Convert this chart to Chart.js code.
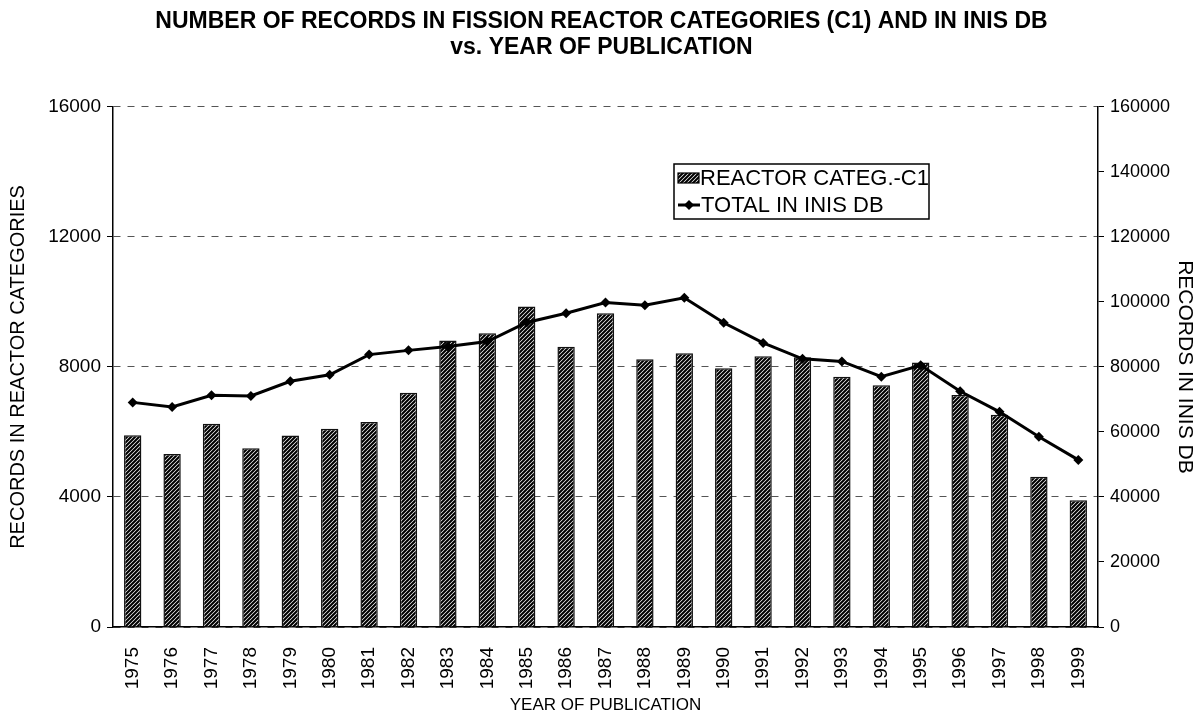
<!DOCTYPE html>
<html>
<head>
<meta charset="utf-8">
<script src="https://cdn.jsdelivr.net/npm/chart.js@4.4.0/dist/chart.umd.min.js"></script>
<style>
  html, body { margin: 0; padding: 0; background: #fff; }
  #wrap { width: 1203px; height: 718px; }
</style>
</head>
<body>
<div id="wrap"><canvas id="chart" width="1203" height="718"></canvas></div>
<script>
// data
const years = ["1975", "1976", "1977", "1978", "1979", "1980", "1981", "1982", "1983", "1984",
  "1985", "1986", "1987", "1988", "1989", "1990", "1991", "1992", "1993", "1994",
  "1995", "1996", "1997", "1998", "1999"]
const reactorC1 = [5900, 5320, 6250, 5500, 5890, 6100, 6310, 7210, 8810, 9040,
  9860, 8620, 9650, 8240, 8420, 7960, 8330, 8300, 7700, 7440,
  8140, 7140, 6530, 4620, 3900]
const totalInis = [69100, 67700, 71300, 71100, 75600, 77600, 83800, 85100, 86300, 87800,
  93700, 96500, 99800, 99000, 101300, 93600, 87400, 82500, 81700, 77000,
  80500, 72500, 66200, 58500, 51400]
const leftTicks = [0, 4000, 8000, 12000, 16000]
const rightTicks = [0, 20000, 40000, 60000, 80000, 100000, 120000, 140000, 160000]

const FONT = "'Liberation Sans', Arial, sans-serif"

// diagonal hatch fill like the old office chart
function makeHatch() {
    const c = document.createElement("canvas")
    c.width = 4
    c.height = 4
    const g = c.getContext("2d")
    g.fillStyle = "#fff"
    g.fillRect(0, 0, 4, 4)
    g.strokeStyle = "#000"
    g.lineWidth = 2.1
    g.beginPath()
    g.moveTo(-1, 5); g.lineTo(5, -1)
    g.moveTo(-1, 1); g.lineTo(1, -1)
    g.moveTo(3, 5); g.lineTo(5, 3)
    g.stroke()
    return g.createPattern(c, "repeat")
}
const hatch = makeHatch()

// legend box drawn inside the plot, like the original
const boxLegend = {
    id: "boxLegend",
    afterDatasetsDraw(chart) {
        const ctx = chart.ctx
        const barDs = chart.data.datasets.find((d) => d.type === "bar")
        const lineDs = chart.data.datasets.find((d) => d.type === "line")
        ctx.save()
        ctx.fillStyle = "#fff"
        ctx.fillRect(674, 164, 255, 55)
        ctx.strokeStyle = "#000"
        ctx.lineWidth = 1.5
        ctx.strokeRect(674, 164, 255, 55)

        // bar swatch
        ctx.fillStyle = hatch
        ctx.fillRect(678, 173, 21, 10)
        ctx.lineWidth = 1.2
        ctx.strokeRect(678, 173, 21, 10)

        // line swatch
        ctx.lineWidth = 3
        ctx.beginPath()
        ctx.moveTo(678, 205)
        ctx.lineTo(700, 205)
        ctx.stroke()
        ctx.fillStyle = "#000"
        ctx.beginPath()
        ctx.moveTo(689, 200); ctx.lineTo(694, 205); ctx.lineTo(689, 210); ctx.lineTo(684, 205)
        ctx.closePath()
        ctx.fill()

        ctx.font = "22px " + FONT
        ctx.textBaseline = "middle"
        ctx.textAlign = "left"
        ctx.fillText(barDs.label, 700, 179)
        ctx.fillText(lineDs.label, 701, 206)
        ctx.restore()
    }
}

const plainNum = (v) => String(v)

new Chart(document.getElementById("chart"), {
    data: {
        labels: years,
        datasets: [
            {
                type: "line",
                label: "TOTAL IN INIS DB",
                data: totalInis,
                yAxisID: "y1",
                order: 0,
                borderColor: "#000",
                borderWidth: 3,
                backgroundColor: "#000",
                pointStyle: "rectRot",
                pointRadius: 5,
                pointBorderWidth: 0,
                tension: 0,
            },
            {
                type: "bar",
                label: "REACTOR CATEG.-C1",
                data: reactorC1,
                yAxisID: "y",
                order: 1,
                backgroundColor: hatch,
                borderColor: "#111",
                borderWidth: 1.5,
                categoryPercentage: 1,
                barPercentage: 0.44,
            },
        ],
    },
    options: {
        responsive: false,
        animation: false,
        layout: { padding: 0 },
        plugins: {
            legend: { display: false },
            tooltip: { enabled: false },
            title: {
                display: true,
                text: ["NUMBER OF RECORDS IN FISSION REACTOR CATEGORIES (C1) AND IN INIS DB", "vs. YEAR OF PUBLICATION"],
                color: "#000",
                font: { family: FONT, size: 23, weight: "bold", lineHeight: 1.15 },
                padding: { top: 8, bottom: 46 },
            },
        },
        scales: {
            x: {
                type: "category",
                offset: true,
                grid: { display: false },
                border: { display: true, color: "#000", width: 1.5 },
                ticks: { color: "#000", font: { family: FONT, size: 19 }, minRotation: 90, maxRotation: 90, padding: 12, autoSkip: false },
                title: { display: true, text: "YEAR OF PUBLICATION", color: "#000", font: { family: FONT, size: 17 }, padding: { top: 0, bottom: 2 } },
                afterFit: (s) => { s.height = 91 },
            },
            y: {
                position: "left",
                min: 0,
                max: 16000,
                afterBuildTicks: (s) => { s.ticks = leftTicks.map((v) => ({ value: v })) },
                grid: { color: "#555", tickColor: "#000", tickLength: 6, lineWidth: 1 },
                border: { display: true, color: "#000", width: 1.5, dash: [7, 7] },
                ticks: { color: "#000", font: { family: FONT, size: 19 }, padding: 6, callback: plainNum },
                title: { display: true, text: "RECORDS IN REACTOR CATEGORIES", color: "#000", font: { family: FONT, size: 20 }, padding: { top: 6, bottom: 0 } },
                afterFit: (s) => { s.width = 113 },
            },
            y1: {
                position: "right",
                min: 0,
                max: 160000,
                afterBuildTicks: (s) => { s.ticks = rightTicks.map((v) => ({ value: v })) },
                grid: { drawOnChartArea: false, tickColor: "#000", tickLength: 6 },
                border: { display: true, color: "#000", width: 1.5 },
                ticks: { color: "#000", font: { family: FONT, size: 18 }, padding: 6, callback: plainNum },
                title: { display: true, text: "RECORDS IN INIS DB", color: "#000", font: { family: FONT, size: 21 }, padding: { top: 6, bottom: 0 } },
                afterFit: (s) => { s.width = 105 },
            },
        },
    },
    plugins: [boxLegend],
})
</script>
</body>
</html>
